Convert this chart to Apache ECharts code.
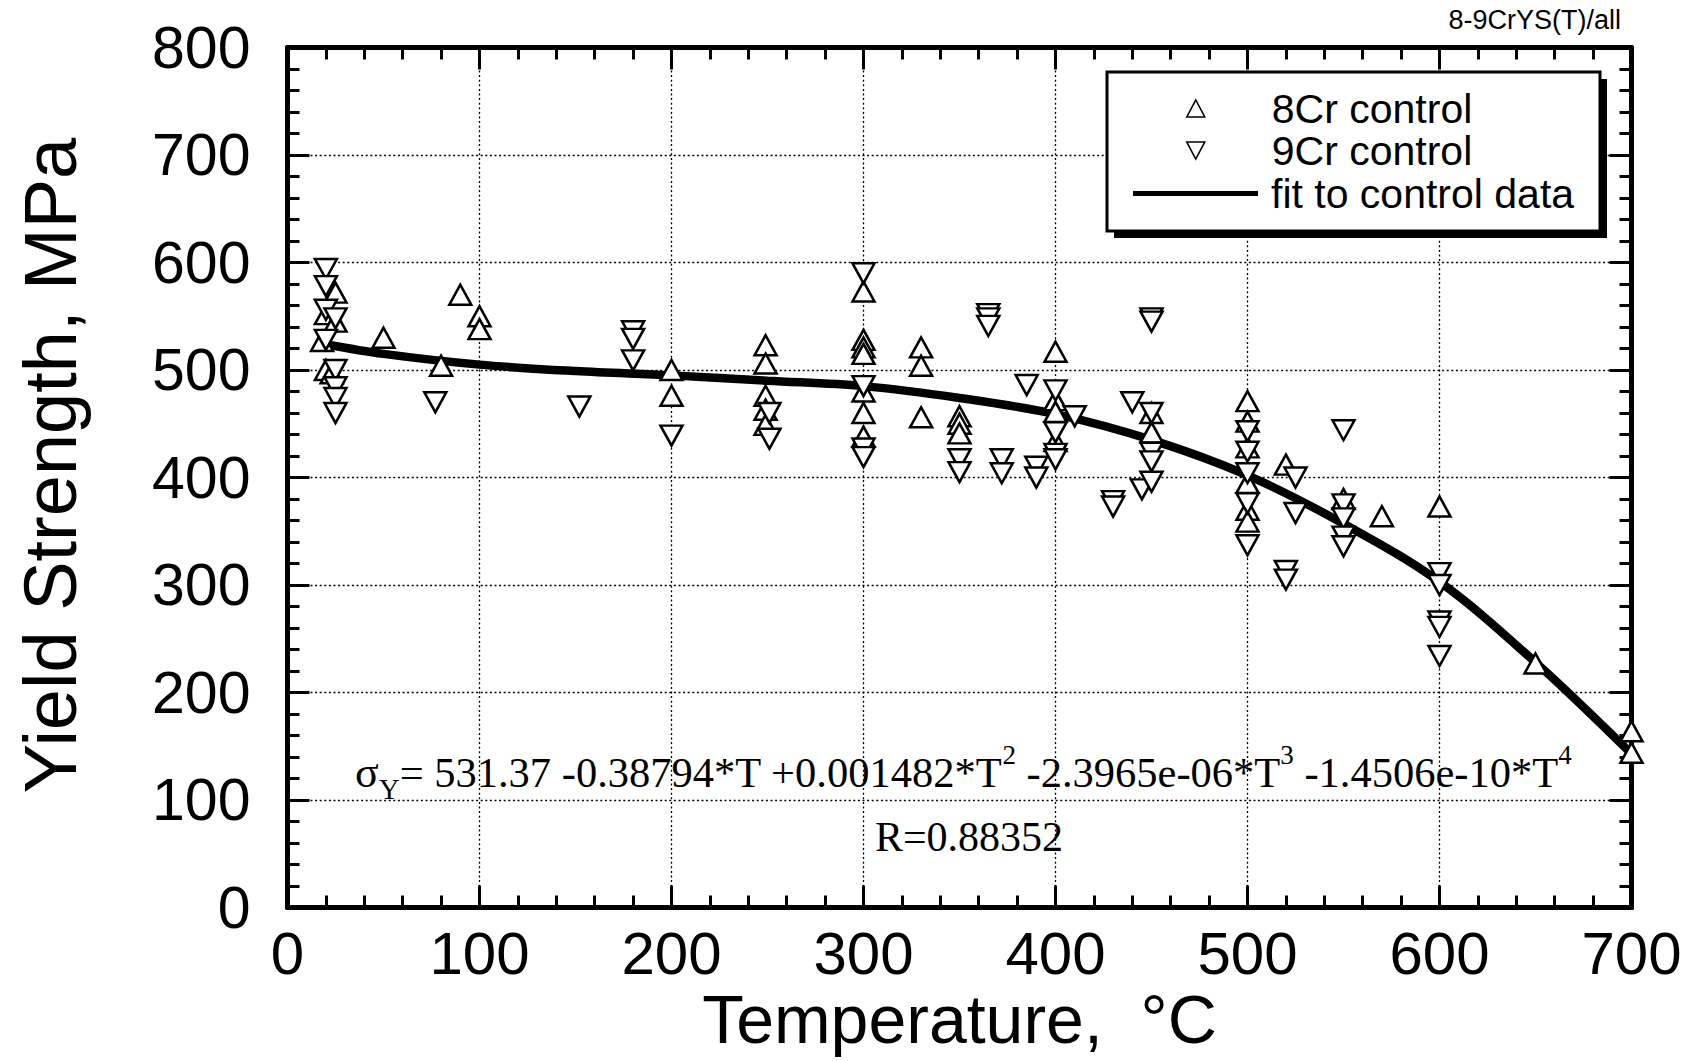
<!DOCTYPE html>
<html>
<head>
<meta charset="utf-8">
<script src="https://cdn.jsdelivr.net/npm/echarts@6/dist/echarts.min.js"></script>
<style>html,body{margin:0;padding:0;background:#fff}#c{width:1696px;height:1061px}</style>
</head>
<body>
<div id="c"></div>
<script>
// ---- data ----
const xTickValues = [0, 100, 200, 300, 400, 500, 600, 700];
const yTickValues = [0, 100, 200, 300, 400, 500, 600, 700, 800];

const cr8T = [18, 20, 25, 25, 20, 23, 50, 80, 90, 100, 100,
  200, 200, 249, 249, 249, 249, 249,
  300, 300, 300, 300, 300, 300, 300,
  330, 330, 330, 350, 350, 350,
  400, 400, 400, 400,
  450, 450,
  500, 500, 500, 500, 500, 500,
  520, 550, 570, 600, 650, 700, 700];
const cr8Y = [527, 552, 572, 545, 500, 497, 530, 504, 570, 550, 538,
  500, 476, 523, 506, 476, 463, 449,
  573, 528, 521, 515, 480, 460, 438,
  521, 504, 456, 457, 450, 441,
  517, 472, 461, 434,
  460, 442,
  471, 452, 428, 395, 370, 359,
  412, 380, 364, 373, 227, 164, 144];

const cr9T = [20, 20, 20, 20, 25, 25, 25, 25, 25, 77, 152,
  180, 180, 180, 200, 251, 251,
  300, 300, 300, 300,
  350, 350, 365, 365, 365, 372, 372, 385, 390, 390,
  400, 400, 400, 400, 410, 430, 430, 440, 445,
  450, 450, 450, 450, 450, 450,
  500, 500, 500, 500, 500,
  520, 520, 525, 525,
  550, 550, 550, 550, 550,
  600, 600, 600, 600, 600];
const cr9Y = [594, 578, 556, 528, 548, 500, 484, 474, 460, 470, 466,
  536, 529, 509, 439, 460, 436,
  590, 485, 427, 419,
  417, 405, 552, 548, 541, 417, 404, 486, 410, 400,
  481, 442, 422, 417, 457, 378, 373, 470, 389,
  548, 545, 460, 423, 415, 396,
  443, 424, 404, 376, 337,
  313, 305, 400, 367,
  444, 375, 362, 345, 336,
  311, 300, 266, 261, 234];

const fitT = [20, 50, 100, 150, 200, 250, 300, 350, 400, 450, 500, 550, 600, 650, 700];
const fitY = [524, 515, 505, 499, 495, 490, 485, 474, 459, 435, 402, 357, 303, 228, 143];

const seriesNames = ['8Cr control', '9Cr control', 'fit to control data'];
const xTitle = 'Temperature,  °C';
const yTitle = 'Yield Strength, MPa';
const fileTag = '8-9CrYS(T)/all';
const rText = 'R=0.88352';

// ---- chart ----
const sans = "'Liberation Sans', Arial, Helvetica, sans-serif";
const serif = "'Liberation Serif', 'Times New Roman', serif";

const zip = (a, b) => a.map((v, i) => [v, b[i]]);

const xMin = xTickValues[0], xMax = xTickValues[xTickValues.length - 1], xInt = xTickValues[1] - xTickValues[0];
const yMin = yTickValues[0], yMax = yTickValues[yTickValues.length - 1], yInt = yTickValues[1] - yTickValues[0];

const frameLine = {show: true, onZero: false, lineStyle: {color: '#000', width: 5}};
const majorTick = {show: true, inside: true, length: 22, lineStyle: {color: '#000', width: 3}};
const minorTick = {show: true, splitNumber: 5, length: 12, lineStyle: {color: '#000', width: 3}};
const gridDots = {show: true, lineStyle: {color: '#000', width: 1.3, type: [2, 2.6]}};

const option = {
  animation: false,
  backgroundColor: '#fff',
  grid: {left: 287.5, right: 64.5, top: 47.5, bottom: 153.5, containLabel: false, outerBoundsMode: 'none'},
  xAxis: [
    {type: 'value', position: 'bottom', min: xMin, max: xMax, interval: xInt,
     axisLine: frameLine, axisTick: majorTick, minorTick: minorTick, splitLine: gridDots,
     axisLabel: {show: true, margin: 16, fontSize: 60, fontFamily: sans, color: '#000'},
     name: xTitle, nameLocation: 'middle', nameGap: 77, nameMoveOverlap: false,
     nameTextStyle: {fontSize: 68, fontFamily: sans, color: '#000'}},
    {type: 'value', position: 'top', min: xMin, max: xMax, interval: xInt,
     axisLine: frameLine, axisTick: majorTick, minorTick: minorTick,
     splitLine: {show: false}, axisLabel: {show: false}}
  ],
  yAxis: [
    {type: 'value', position: 'left', min: yMin, max: yMax, interval: yInt,
     axisLine: frameLine, axisTick: majorTick, minorTick: minorTick, splitLine: gridDots,
     axisLabel: {show: true, margin: 37, fontSize: 59, fontFamily: sans, color: '#000'},
     name: yTitle, nameLocation: 'middle', nameGap: 200, nameMoveOverlap: false,
     nameTextStyle: {fontSize: 74, fontFamily: sans, color: '#000', padding: [0, 0, 0, 24]}},
    {type: 'value', position: 'right', min: yMin, max: yMax, interval: yInt,
     axisLine: frameLine, axisTick: majorTick, minorTick: minorTick,
     splitLine: {show: false}, axisLabel: {show: false}}
  ],
  legend: [
    {data: [seriesNames[0]], orient: 'vertical', left: 1186, top: 88, padding: 0, z: 200,
     selectedMode: false, itemWidth: 18, itemHeight: 17,
     itemStyle: {borderWidth: 1.6},
     textStyle: {fontSize: 41, fontFamily: sans, color: '#000', padding: [0, 0, 0, 62]}},
    {data: [seriesNames[1]], orient: 'vertical', left: 1186, top: 130, padding: 0, z: 200,
     selectedMode: false, itemWidth: 18, itemHeight: 17,
     itemStyle: {borderWidth: 1.6},
     textStyle: {fontSize: 41, fontFamily: sans, color: '#000', padding: [0, 0, 0, 62]}},
    {data: [seriesNames[2]], orient: 'vertical', left: 1133, top: 173, padding: 0, z: 200,
     selectedMode: false, itemWidth: 125, itemHeight: 5, icon: 'rect',
     itemStyle: {color: '#000'},
     textStyle: {fontSize: 41, fontFamily: sans, color: '#000', padding: [0, 0, 0, 8]}}
  ],
  graphic: [
    {type: 'rect', z: 100, shape: {x: 1114, y: 79, width: 493, height: 159}, style: {fill: '#000'}},
    {type: 'rect', z: 101, shape: {x: 1107, y: 72, width: 493, height: 159},
     style: {fill: '#fff', stroke: '#000', lineWidth: 3}},
    {type: 'text', z: 101, x: 1621, y: 20,
     style: {text: fileTag, fill: '#000', font: "27px " + sans, textAlign: 'right', textVerticalAlign: 'middle'}},
    {type: 'text', z: 50, x: 355, y: 772,
     style: {
       text: '{s|σ}{sub|Y}{n|= 531.37 -0.38794*T +0.001482*T}{sup|2}{n| -2.3965e-06*T}{sup|3}{n| -1.4506e-10*T}{sup|4}',
       fill: '#000', textVerticalAlign: 'middle',
       rich: {
         s: {fontSize: 44, fontFamily: serif, lineHeight: 62, verticalAlign: 'middle'},
         n: {fontSize: 42.5, fontFamily: serif, lineHeight: 62, verticalAlign: 'middle'},
         sub: {fontSize: 29, fontFamily: serif, lineHeight: 30, verticalAlign: 'bottom'},
         sup: {fontSize: 27, fontFamily: serif, lineHeight: 34, verticalAlign: 'top'}
       }
     }},
    {type: 'text', z: 50, x: 969, y: 837,
     style: {text: rText, fill: '#000', font: "42px " + serif, textAlign: 'center', textVerticalAlign: 'middle'}}
  ],
  series: [
    {name: seriesNames[2], type: 'line', data: zip(fitT, fitY), smooth: 0.35, showSymbol: false, symbol: 'none',
     color: '#000', lineStyle: {color: '#000', width: 8.5}, z: 3, silent: true},
    {name: seriesNames[0], type: 'scatter', data: zip(cr8T, cr8Y), symbol: 'triangle', symbolSize: [22, 20],
     itemStyle: {color: '#fff', borderColor: '#000', borderWidth: 2.5, opacity: 1}, z: 5},
    {name: seriesNames[1], type: 'scatter', data: zip(cr9T, cr9Y), symbol: 'path://M0,0L20,0L10,19Z', symbolSize: [22, 20],
     itemStyle: {color: '#fff', borderColor: '#000', borderWidth: 2.5, opacity: 1}, z: 5}
  ]
};

const chart = echarts.init(document.getElementById('c'), null, {renderer: 'svg', width: 1696, height: 1061});
chart.setOption(option);
</script>
</body>
</html>
